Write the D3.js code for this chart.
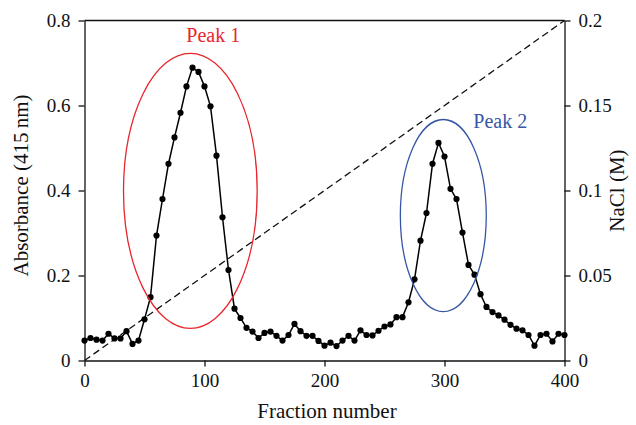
<!DOCTYPE html>
<html>
<head>
<meta charset="utf-8">
<script src="https://cdn.jsdelivr.net/npm/d3@7/dist/d3.min.js"></script>
<style>
  html, body { margin: 0; padding: 0; background: #fff; }
  svg { display: block; }
  svg text { font-family: "Liberation Serif", "Times New Roman", serif !important; }
</style>
</head>
<body>
<div id="chart"></div>
<script>
// ---- data ----
const fractions = d3.range(0, 401, 5);
const absorbance = [
  0.047, 0.053, 0.049, 0.047, 0.063, 0.052, 0.052, 0.069, 0.039, 0.047,
  0.097, 0.149, 0.294, 0.380, 0.463, 0.525, 0.583, 0.645, 0.689, 0.679,
  0.645, 0.598, 0.482, 0.337, 0.213, 0.122, 0.100, 0.077, 0.068, 0.053,
  0.065, 0.068, 0.058, 0.047, 0.060, 0.086, 0.069, 0.058, 0.058, 0.046,
  0.035, 0.042, 0.034, 0.047, 0.058, 0.047, 0.071, 0.060, 0.059, 0.070,
  0.080, 0.085, 0.102, 0.102, 0.137, 0.191, 0.282, 0.347, 0.463, 0.512,
  0.480, 0.404, 0.380, 0.301, 0.225, 0.202, 0.156, 0.126, 0.114, 0.106,
  0.096, 0.084, 0.075, 0.071, 0.060, 0.035, 0.060, 0.063, 0.045, 0.063,
  0.060
];
const gradientFractions = [0, 400];
const gradientNaCl = [0, 0.2];
const xTicks = [0, 100, 200, 300, 400];
const yLeftTicks = [0, 0.2, 0.4, 0.6, 0.8];
const yLeftTickLabels = ["0", "0.2", "0.4", "0.6", "0.8"];
const yRightTicks = [0, 0.05, 0.1, 0.15, 0.2];
const yRightTickLabels = ["0", "0.05", "0.1", "0.15", "0.2"];
const peakNames = ["Peak 1", "Peak 2"];
const peakColors = ["#e8262d", "#3656a6"];
// ellipse centre (fraction, absorbance) and radii (fractions, absorbance)
const peakCx = [88.2, 299];
const peakCy = [0.399, 0.341];
const peakRx = [55.7, 35.8];
const peakRy = [0.3235, 0.226];
const peakLabelX = [107.3, 346.5];
const peakLabelY = [0.75, 0.548];

// ---- layout ----
const W = 636, H = 425;
const mL = 84.5, mR = 564.5, mT = 20.5, mB = 360.5;
const SERIF = '"Liberation Serif", "Times New Roman", serif';

const svg = d3.select("#chart").append("svg").attr("width", W).attr("height", H);

const x = d3.scaleLinear().domain([0, 400]).range([mL, mR]);
const y = d3.scaleLinear().domain([0, 0.8]).range([mB, mT]);
const y2 = d3.scaleLinear().domain([0, 0.2]).range([mB, mT]);

// frame top line
svg.append("line").attr("x1", mL).attr("x2", mR).attr("y1", mT).attr("y2", mT)
  .attr("stroke", "#111").attr("stroke-width", 1.3);

function styleAxis(g) {
  g.attr("font-family", SERIF);
  g.selectAll(".domain").attr("stroke", "#111").attr("stroke-width", 1.3);
  g.selectAll(".tick line").attr("stroke", "#111").attr("stroke-width", 1.3);
  g.selectAll(".tick text").style("font-family", SERIF).style("font-size", "19px").style("fill", "#111");
}

const gx = svg.append("g").attr("transform", `translate(0,${mB})`)
  .call(d3.axisBottom(x).tickValues(xTicks).tickSize(6).tickPadding(7).tickSizeOuter(0).tickFormat(d3.format("d")));
styleAxis(gx);

const gy = svg.append("g").attr("transform", `translate(${mL},0)`)
  .call(d3.axisLeft(y).tickValues(yLeftTicks).tickSize(6).tickPadding(8).tickSizeOuter(0)
    .tickFormat((d, i) => yLeftTickLabels[i]));
styleAxis(gy);

const gy2 = svg.append("g").attr("transform", `translate(${mR},0)`)
  .call(d3.axisRight(y2).tickValues(yRightTicks).tickSize(6).tickPadding(8).tickSizeOuter(0)
    .tickFormat((d, i) => yRightTickLabels[i]));
styleAxis(gy2);

// gradient dashed line
svg.append("path")
  .datum(gradientFractions.map((f, i) => [f, gradientNaCl[i]]))
  .attr("d", d3.line().x(d => x(d[0])).y(d => y2(d[1])))
  .attr("fill", "none").attr("stroke", "#111").attr("stroke-width", 1.3)
  .attr("stroke-dasharray", "7,4");

// absorbance line
const pts = fractions.map((f, i) => [f, absorbance[i]]);
svg.append("path").datum(pts)
  .attr("d", d3.line().x(d => x(d[0])).y(d => y(d[1])))
  .attr("fill", "none").attr("stroke", "#000").attr("stroke-width", 1.5);
svg.append("g").selectAll("circle").data(pts).join("circle")
  .attr("cx", d => x(d[0])).attr("cy", d => y(d[1])).attr("r", 3.1).attr("fill", "#000");

// peak ellipses + labels
peakNames.forEach((name, i) => {
  svg.append("ellipse")
    .attr("cx", x(peakCx[i])).attr("cy", y(peakCy[i]))
    .attr("rx", x(peakRx[i]) - x(0)).attr("ry", y(0) - y(peakRy[i]))
    .attr("fill", "none").attr("stroke", peakColors[i]).attr("stroke-width", 1.3);
  svg.append("text").attr("x", x(peakLabelX[i])).attr("y", y(peakLabelY[i]))
    .attr("text-anchor", "middle").style("font-size", "20px")
    .style("fill", peakColors[i]).text(name);
});

// axis titles
svg.append("text").attr("x", 327).attr("y", 418)
  .attr("text-anchor", "middle").style("font-size", "21px").style("fill", "#111").text("Fraction number");
svg.append("text").attr("transform", `translate(28,${(mT + mB) / 2 - 5}) rotate(-90)`)
  .attr("text-anchor", "middle").style("font-size", "21px").style("fill", "#111").text("Absorbance (415\u2009nm)");
svg.append("text").attr("transform", `translate(624,${(mT + mB) / 2}) rotate(-90)`)
  .attr("text-anchor", "middle").style("font-size", "21px").style("fill", "#111").text("NaCl (M)");
</script>
</body>
</html>
